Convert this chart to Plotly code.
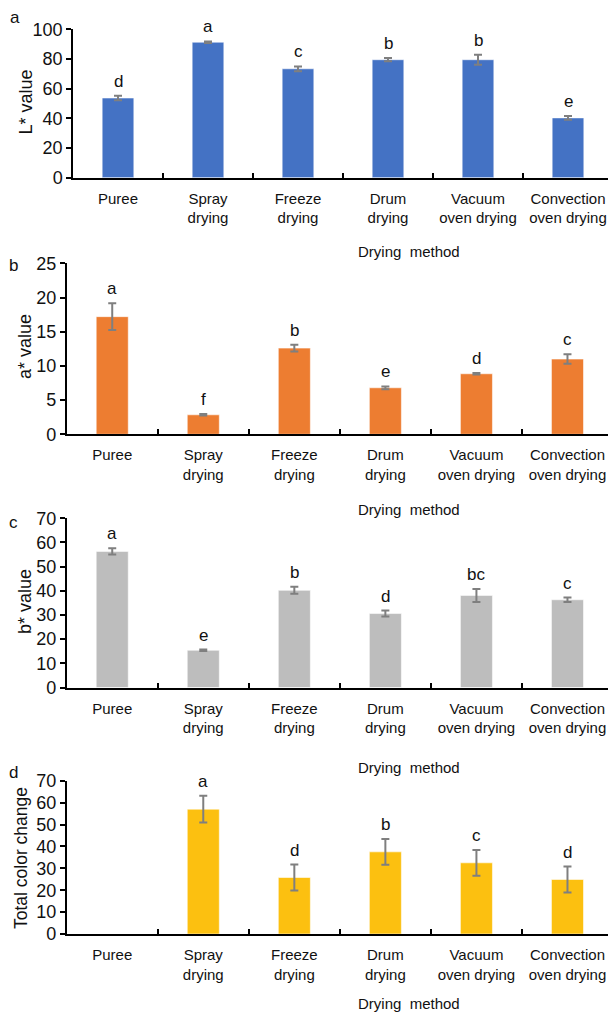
import plotly.graph_objects as go

categories = ["Puree", "Spray drying", "Freeze drying", "Drum drying",
              "Vacuum oven drying", "Convection oven drying"]
tick_labels = ["Puree", "Spray<br>drying", "Freeze<br>drying", "Drum<br>drying",
               "Vacuum<br>oven drying", "Convection<br>oven drying"]

L_values = [53.7, 91.3, 73.4, 79.5, 79.5, 40.3]
L_errors = [1.5, 0.5, 1.6, 1.1, 3.4, 1.2]
L_letters = ["d", "a", "c", "b", "b", "e"]

a_values = [17.2, 2.85, 12.6, 6.8, 8.85, 11.0]
a_errors = [1.95, 0.1, 0.5, 0.2, 0.1, 0.7]
a_letters = ["a", "f", "b", "e", "d", "c"]

b_values = [56.3, 15.4, 40.2, 30.6, 38.1, 36.3]
b_errors = [1.3, 0.3, 1.45, 1.25, 2.7, 0.9]
b_letters = ["a", "e", "b", "d", "bc", "c"]

dE_values = [None, 57.0, 25.8, 37.5, 32.5, 24.9]
dE_errors = [None, 6.1, 5.9, 5.9, 5.9, 5.9]
dE_letters = ["", "a", "d", "b", "c", "d"]

panel_labels = ["a", "b", "c", "d"]
y_titles = ["L* value", "a* value", "b* value", "Total color change"]
x_title = "Drying  method"
y_ranges = [[0, 100], [0, 25], [0, 70], [0, 70]]
y_dticks = [20, 5, 10, 10]
colors = ["#4472C4", "#ED7D31", "#BDBDBD", "#FCC010"]

# the page body adds an 8 px margin, so the figure is sized to fit the window
W, H = 608, 1004
FONT = "Arial, Liberation Sans, sans-serif"

# pixel geometry of each panel in figure coordinates: (left, right, top, bottom)
geo = [(65, 605, 21.3, 169.7),
       (58.7, 605, 255.3, 426.3),
       (58.7, 605, 510.3, 679.5),
       (58.7, 605, 772.7, 926.0)]
ytitle_pos = [(17, 94.5), (17, 339), (17, 594), (13, 850)]
ytitle_sizes = [18, 18, 18, 17.5]
xtitle_y = [243.5, 501.5, 759, 995]
xtitle_x = 401
label_pos = [(7, 10), (5, 257), (5, 514), (5, 764)]

series = [(L_values, L_errors, L_letters), (a_values, a_errors, a_letters),
          (b_values, b_errors, b_letters), (dE_values, dE_errors, dE_letters)]

fig = go.Figure()
annotations = []
for i, (vals, errs, letters) in enumerate(series):
    n = "" if i == 0 else str(i + 1)
    fig.add_trace(go.Bar(
        x=categories, y=vals, width=0.352,
        marker=dict(color=colors[i], line=dict(color="rgba(255,255,255,0.55)", width=1)),
        error_y=dict(type="data", array=errs, visible=True,
                     color="#7F7F7F", thickness=2, width=4),
        xaxis="x" + n, yaxis="y" + n, showlegend=False,
    ))
    l, r, t, b = geo[i]
    fig.update_layout(**{
        "xaxis" + n: dict(
            domain=[l / W, r / W], anchor="y" + n, type="category",
            categoryorder="array", categoryarray=categories,
            tickmode="array", tickvals=categories, ticktext=tick_labels,
            tickson="boundaries", ticks="inside", ticklen=5, tickwidth=1.5,
            tickcolor="black", showline=True, linecolor="black", linewidth=2,
            showgrid=False, tickfont=dict(family=FONT, size=15, color="#111"),
            ticklabelstandoff=6, range=[-0.5, 5.5], fixedrange=True,
            automargin=False,
        ),
        "yaxis" + n: dict(
            domain=[1 - b / H, 1 - t / H], anchor="x" + n,
            range=y_ranges[i], dtick=y_dticks[i], tick0=0,
            ticks="outside", ticklen=5, tickwidth=1.5, tickcolor="black",
            showline=True, linecolor="black", linewidth=1.5,
            showgrid=False, zeroline=False,
            tickfont=dict(family=FONT, size=18, color="#111"),
            ticklabelstandoff=0, automargin=False,
        ),
    })
    for c, v, e, lt in zip(categories, vals, errs, letters):
        if v is None or not lt:
            continue
        annotations.append(dict(
            x=c, y=v + e, xref="x" + n, yref="y" + n, text=lt,
            showarrow=False, yanchor="bottom", yshift=3,
            font=dict(family=FONT, size=17, color="#111"),
        ))
    yx, yy = ytitle_pos[i]
    annotations.append(dict(
        x=yx / W, y=1 - yy / H, xref="paper", yref="paper", text=y_titles[i],
        textangle=-90, showarrow=False, xanchor="center", yanchor="middle",
        font=dict(family=FONT, size=ytitle_sizes[i], color="#111"),
    ))
    annotations.append(dict(
        x=xtitle_x / W, y=1 - xtitle_y[i] / H, xref="paper", yref="paper", text=x_title,
        showarrow=False, xanchor="center", yanchor="middle",
        font=dict(family=FONT, size=15, color="#111"),
    ))
    px, py = label_pos[i]
    annotations.append(dict(
        x=px / W, y=1 - py / H, xref="paper", yref="paper", text=panel_labels[i],
        showarrow=False, xanchor="center", yanchor="middle",
        font=dict(family=FONT, size=17, color="#111"),
    ))

fig.update_layout(
    width=W, height=H, margin=dict(l=0, r=0, t=0, b=0, pad=0, autoexpand=False),
    paper_bgcolor="white", plot_bgcolor="white",
    annotations=annotations, bargap=0.6,
)
fig.write_html("out.html")
